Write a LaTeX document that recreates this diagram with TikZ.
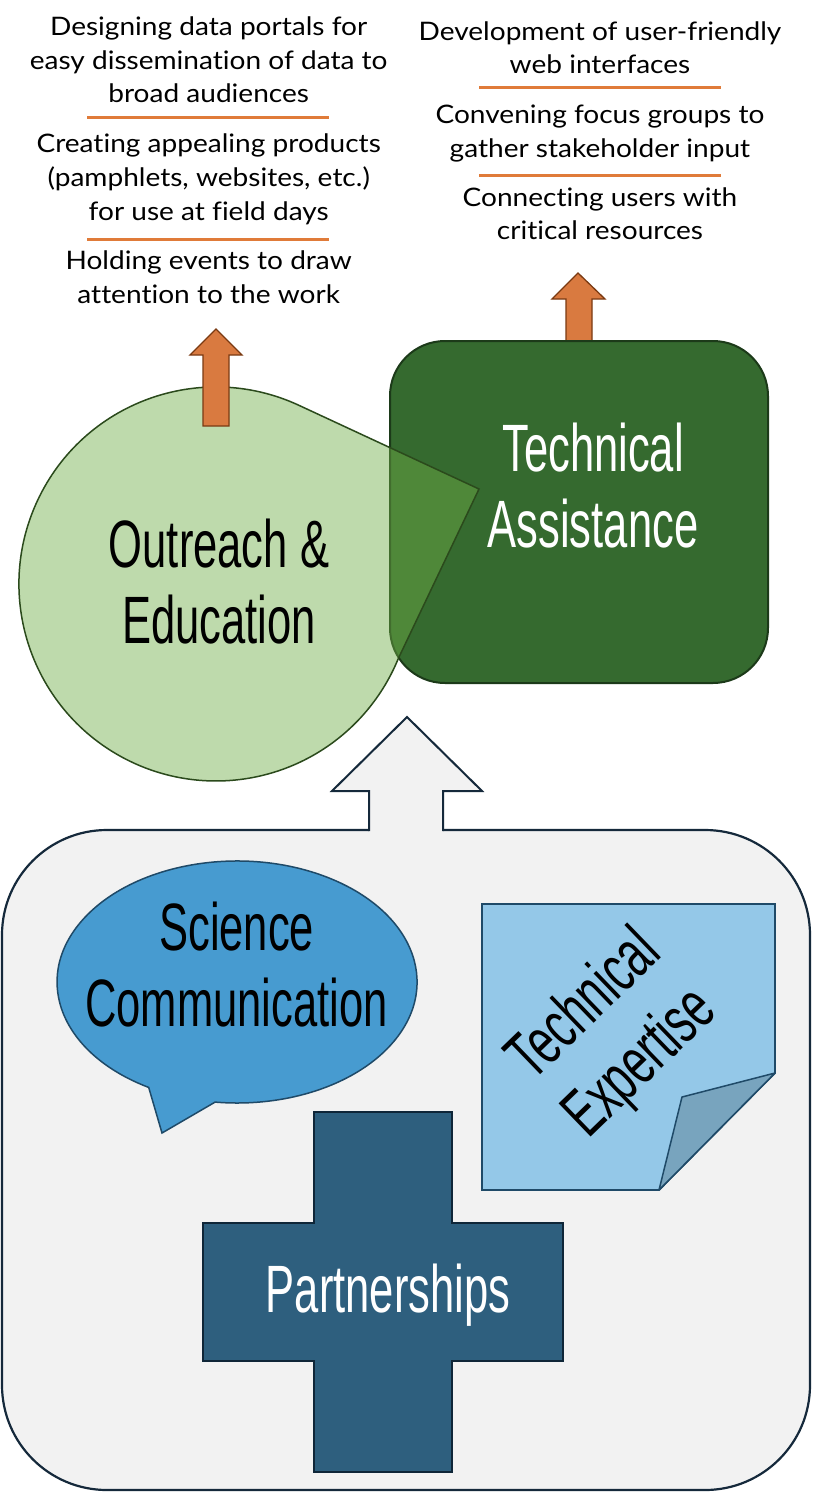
\documentclass[tikz,border=0pt]{standalone}
\usepackage{fontspec}
\setmainfont[FakeStretch=1.1,RawFeature={-liga}]{Lato}
\newfontfamily\agency[FakeStretch=0.65]{Liberation Sans}
\definecolor{sepc}{HTML}{E07B39}
\definecolor{arrowc}{HTML}{D97A40}
\definecolor{arrowb}{HTML}{7A3A12}
\definecolor{boxc}{HTML}{356A2F}
\definecolor{boxb}{HTML}{1C3A19}
\definecolor{circc}{HTML}{70AD47}
\definecolor{circb}{HTML}{2B4A1C}
\definecolor{panelc}{HTML}{F2F2F2}
\definecolor{navy}{HTML}{15293B}
\definecolor{bubc}{HTML}{479BD0}
\definecolor{bubb}{HTML}{1F4A68}
\definecolor{notec}{HTML}{94C8E8}
\definecolor{foldc}{HTML}{78A4BE}
\definecolor{crossc}{HTML}{2E5F7E}
\definecolor{crossb}{HTML}{0F2638}
\begin{document}
\begin{tikzpicture}[x=1pt,y=-1pt,
  small/.style={font=\fontsize{25.5}{30}\selectfont, anchor=base, inner sep=0pt},
  big/.style={font=\agency\fontsize{67}{76}\selectfont, anchor=base, inner sep=0pt},
  sepline/.style={draw=sepc, line width=3pt},
  orangearrow/.style={fill=arrowc, draw=arrowb, line width=1.3pt, line join=miter}]
\useasboundingbox (0,0) rectangle (813,1492);
\fill[white] (0,0) rectangle (813,1492);

% ---- top left text
\node[small] (l1) at (208.7,35) {Designing data portals for};
\node[small] (l2) at (208.7,69) {easy dissemination of data to};
\node[small] (l3) at (208.7,102) {broad audiences};
\draw[sepline] (87,117.3) -- (329,117.3);
\node[small] (l4) at (208.7,152) {Creating appealing products};
\node[small] (l5) at (208.7,186) {(pamphlets, websites, etc.)};
\node[small] (l6) at (208.7,220) {for use at field days};
\draw[sepline] (87,239) -- (329,239);
\node[small] (l7) at (208.7,269) {Holding events to draw};
\node[small] (l8) at (208.7,303) {attention to the work};

% ---- top right text
\node[small] (r1) at (600,40) {Development of user-friendly};
\node[small] (r2) at (600,73) {web interfaces};
\draw[sepline] (479,87.3) -- (721,87.3);
\node[small] (r3) at (600,123) {Convening focus groups to};
\node[small] (r4) at (600,157) {gather stakeholder input};
\draw[sepline] (479,175.7) -- (721,175.7);
\node[small] (r5) at (600,206) {Connecting users with};
\node[small] (r6) at (600,239) {critical resources};

% ---- right orange arrow and box
\draw[orangearrow] (566,341) -- (566,299) -- (552,299) -- (578,273) -- (605,299) -- (592,299) -- (592,341) -- cycle;
\draw[fill=boxc, draw=boxb, line width=2pt, rounded corners=55pt] (390,341) rectangle (768,683);

% ---- outreach callout circle
\draw[fill=circc, fill opacity=0.45, draw=circb, line width=1.5pt, line join=miter]
  (479,489) -- (298.9,405.3) arc[start angle=-65.1, end angle=-337.7, radius=197] -- cycle;
\draw[orangearrow] (203,426) -- (203,355) -- (190,355) -- (216,329) -- (242,355) -- (229,355) -- (229,426) -- cycle;

\node[big, white] (ta1) at (593,471) {Technical};
\node[big, white] (ta2) at (593,547) {Assistance};
\node[big] (oe1) at (219,567) {Outreach \&};
\node[big] (oe2) at (219,643) {Education};

% ---- bottom panel
\draw[fill=panelc, draw=navy, line width=2.2pt, rounded corners=105pt] (2,830) rectangle (810,1490);
\fill[panelc] (369,791) -- (332,791) -- (407,717) -- (482,791) -- (443,791) -- (443,833) -- (369,833) -- cycle;
\draw[navy, line width=2pt, line join=miter] (369,831) -- (369,791) -- (332,791) -- (407,717) -- (482,791) -- (443,791) -- (443,831);

% speech bubble
\draw[fill=bubc, draw=bubb, line width=1.5pt]
  (162,1133) -- (148.7,1087.4) arc[start angle=119.4, end angle=457, x radius=180, y radius=121] -- cycle;
\node[big] (sc1) at (236.7,950) {Science};
\node[big] (sc2) at (236.5,1026) {Communication};

% note with folded corner
\draw[fill=notec, draw=bubb, line width=1.8pt, line join=miter] (482,904) -- (775,904) -- (775,1073) -- (659,1190) -- (482,1190) -- cycle;
\draw[fill=foldc, draw=bubb, line width=1.5pt, line join=round] (775,1073) -- (682,1097) -- (659,1190) -- cycle;
\node[font=\agency\fontsize{67}{80}\selectfont, inner sep=0pt, align=center, rotate=44, anchor=center] (te) at (613.8,1035.4) {Technical\\Expertise};

% cross
\draw[fill=crossc, draw=crossb, line width=1.5pt, line join=miter]
  (314,1112) -- (452,1112) -- (452,1223) -- (563,1223) -- (563,1361) -- (452,1361) -- (452,1472) -- (314,1472) -- (314,1361) -- (203,1361) -- (203,1223) -- (314,1223) -- cycle;
\node[big, white] (pa) at (388,1312) {Partnerships};
\end{tikzpicture}
\end{document}
